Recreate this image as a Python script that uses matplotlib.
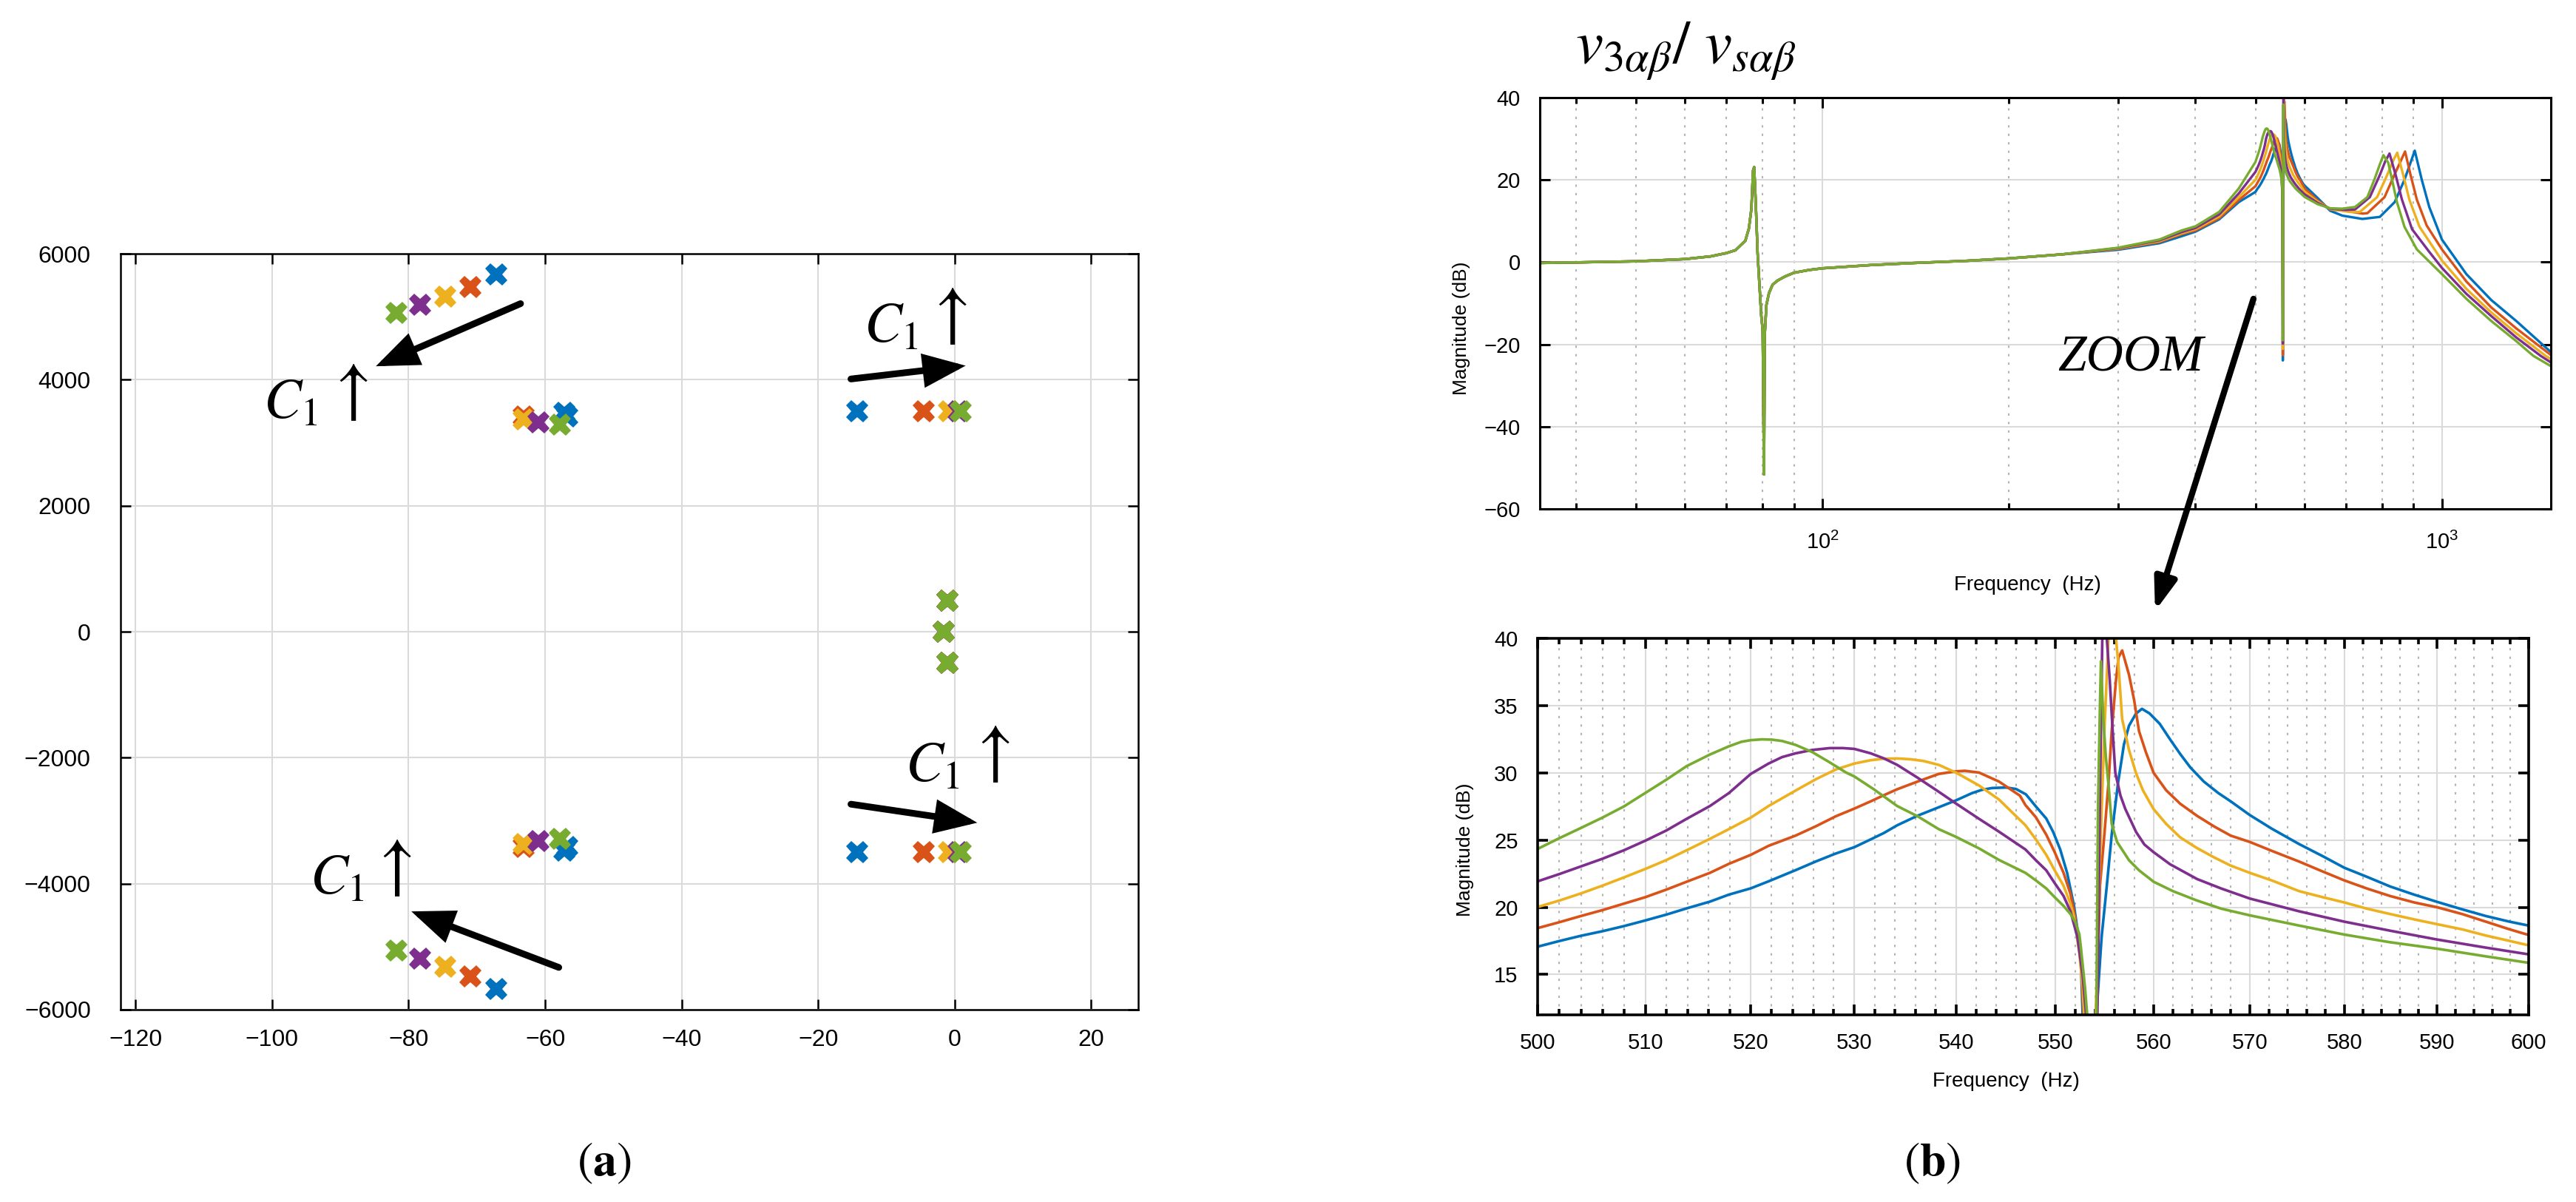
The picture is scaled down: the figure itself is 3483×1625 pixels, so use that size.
import matplotlib.pyplot as plt
from matplotlib.patches import FancyArrowPatch
from matplotlib.ticker import FixedLocator, FuncFormatter, NullFormatter, LogLocator

plt.rcParams['font.family'] = ['Liberation Sans Narrow', 'Liberation Sans', 'DejaVu Sans']

# MATLAB default line colours
c_blue, c_orange, c_yellow = '#0072BD', '#D95319', '#EDB120'
c_purple, c_green = '#7E2F8E', '#77AC30'

# ---- (a) pole map: real part, imaginary part ----
re_blue = [-67.2, -57.2, -56.8, -14.3, -1.1, -1.6, -1.1, -14.3, -56.8, -57.2, -67.2]
im_blue = [5675, 3471, 3412, 3498, 491, 0, -491, -3498, -3412, -3471, -5675]
re_orange = [-71.0, -63.2, -4.5, -1.1, -1.6, -1.1, -4.5, -63.2, -71.0]
im_orange = [5476, 3420, 3498, 491, 0, -491, -3498, -3420, -5476]
re_yellow = [-74.6, -63.2, -0.8, -1.1, -1.6, -1.1, -0.8, -63.2, -74.6]
im_yellow = [5320, 3365, 3498, 491, 0, -491, -3498, -3365, -5320]
re_purple = [-78.3, -61.0, 0.6, -1.1, -1.6, -1.1, 0.6, -61.0, -78.3]
im_purple = [5190, 3326, 3498, 491, 0, -491, -3498, -3326, -5190]
re_green = [-81.8, -57.8, 0.9, -1.1, -1.6, -1.1, 0.9, -57.8, -81.8]
im_green = [5061, 3283, 3498, 491, 0, -491, -3498, -3283, -5061]

# direction arrows (tail, head) and "C1 ^" labels
arrow_tails = [(-63.6, 5208), (-15.2, 4012), (-15.2, -2738), (-58.0, -5329)]
arrow_heads = [(-84.8, 4214), (1.6, 4223), (3.3, -3032), (-79.6, -4440)]
c1_pos = [(-101.3, 3396), (-13.3, 4603), (-7.2, -2367), (-94.5, -4155)]
up_pos = [(-89.0, 3808), (-1.3, 5018), (5.0, -1935), (-82.6, -3741)]

# ---- (b) magnitude of v3ab / vsab, (Hz, dB) ----
# common part below 300 Hz (all five curves overlap there)
low_pts = [(35, -0.2), (40, -0.07), (50, 0.2), (60, 0.74), (66, 1.4), (70, 2.2),
           (72.4, 2.9), (75.1, 5.2), (76.1, 8.2), (76.8, 12.9), (77.3, 22.3), (77.6, 23.1),
           (78.1, 13.6), (78.6, 2.2), (79.4, -9.2), (79.7, -13.2), (80.1, -16.5),
           (80.5, -51.6), (80.7, -17.9), (81.2, -10.5), (82.0, -7.5), (83.1, -5.5),
           (84.6, -4.5), (87.0, -3.5), (89.9, -2.6), (95.2, -1.9), (100, -1.5), (120, -0.7),
           (141, -0.2), (170, 0.3), (200, 0.9), (244, 1.9)]

blue_pts = [(300, 3.0), (350, 4.6), (380, 6.3), (400, 7.4), (437, 10.4), (470, 14.6),
            (500, 17.07), (502, 17.49), (504, 17.88), (506, 18.22), (508, 18.6), (510, 19.02),
            (512, 19.46), (513.9, 19.92), (516.1, 20.42), (517.9, 20.94), (520, 21.41),
            (521.7, 21.93), (524.3, 22.76), (526.3, 23.42), (528.2, 24.0), (530, 24.47),
            (531.6, 25.05), (532.9, 25.53), (534.2, 26.1), (536.2, 26.81), (538.3, 27.44),
            (540, 27.95), (541.6, 28.49), (542.6, 28.74), (543.6, 28.87), (545.0, 28.91),
            (546.0, 28.8), (547.0, 28.4), (548.0, 27.5), (549.05, 26.6), (549.75, 25.6),
            (550.46, 24.3), (551.16, 22.56), (551.86, 20.1), (552.2, 18.4), (552.56, 15.9),
            (552.74, 12.0), (553.6, -23.9), (554.14, 12.0), (554.67, 17.8), (555.2, 21.6),
            (555.7, 25.4), (556.35, 29.25), (556.95, 32.1), (557.47, 33.5), (558.18, 34.4),
            (558.8, 34.76), (559.58, 34.42), (560.63, 33.65), (561.69, 32.5), (562.75, 31.4),
            (563.8, 30.4), (565.2, 29.35), (566.7, 28.5), (568.0, 27.88), (570, 26.86),
            (572.3, 25.85), (575.2, 24.7), (577.7, 23.8), (580, 22.94), (582.4, 22.27),
            (584.9, 21.55), (587.5, 20.94), (590, 20.4), (592.7, 19.85), (595.3, 19.35),
            (597.9, 18.93), (600, 18.64), (630, 15.6), (660, 12.5), (691, 11.3), (744, 10.5),
            (794, 11.0), (839, 14.6), (870, 20.0), (904, 27.1), (928, 20.0), (954, 13.4),
            (1000, 5.5), (1095, -2.9), (1201, -9.2), (1318, -14.3), (1500, -21.9)]

orange_pts = [(300, 3.2), (350, 4.9), (380, 6.8), (400, 7.7), (437, 10.7), (470, 15.1),
              (500, 18.45), (502, 18.89), (504, 19.35), (506, 19.79), (508, 20.27),
              (510, 20.75), (512, 21.32), (513.9, 21.9), (516.1, 22.56), (517.9, 23.23),
              (520, 23.9), (521.7, 24.57), (524.3, 25.33), (526.3, 26.04), (528.2, 26.77),
              (530, 27.34), (531.6, 27.88), (532.9, 28.34), (534.2, 28.78), (536.2, 29.35),
              (538.3, 29.92), (540, 30.11), (540.9, 30.15), (542.3, 30.02), (544.3, 29.35),
              (546.4, 28.3), (546.95, 27.6), (548.0, 26.7), (549.05, 25.4), (549.9, 24.1),
              (550.8, 22.56), (551.5, 21.0), (551.86, 19.7), (552.2, 18.2), (552.56, 15.9),
              (552.84, 12.0), (553.6, -22.6), (554.14, 12.0), (554.5, 21.6), (554.95, 25.4),
              (555.37, 29.25), (555.7, 33.1), (556.14, 36.9), (556.4, 38.6), (556.77, 39.1),
              (557.47, 37.3), (558.0, 35.4), (558.5, 33.1), (559.2, 31.55), (560, 30.0),
              (561.3, 28.7), (562.75, 27.7), (564.5, 26.8), (566.3, 26.0), (568, 25.33),
              (570, 24.86), (572.3, 24.2), (575.2, 23.4), (577.7, 22.66), (580, 22.0),
              (582.4, 21.4), (584.9, 20.84), (587.5, 20.36), (590, 20.0), (592.7, 19.5),
              (595.3, 18.93), (597.9, 18.36), (600, 17.94), (630, 15.0), (660, 12.8),
              (697, 12.5), (745, 11.8), (758, 11.9), (808, 15.8), (838, 21.2), (872, 26.9),
              (890, 21.2), (911, 15.2), (945, 8.9), (1000, 3.1), (1095, -4.7), (1201, -11.0),
              (1318, -16.1), (1500, -22.6)]

yellow_pts = [(300, 3.3), (350, 5.1), (380, 7.0), (400, 8.0), (437, 11.1), (470, 15.8),
              (500, 20.02), (502, 20.5), (504, 21.03), (506, 21.61), (508, 22.22),
              (510, 22.85), (512, 23.52), (513.9, 24.24), (516.1, 25.09), (517.9, 25.81),
              (520, 26.67), (521.7, 27.53), (524.3, 28.68), (526.3, 29.54), (528.2, 30.25),
              (530, 30.69), (531.6, 30.94), (532.9, 31.05), (534.2, 31.07), (535.5, 31.01),
              (536.8, 30.88), (538.3, 30.59), (540, 30.02), (542.3, 29.06), (544.3, 28.01),
              (546.95, 26.1), (548.0, 25.05), (549.05, 23.9), (549.9, 22.75), (550.8, 21.6),
              (551.5, 20.27), (551.86, 19.3), (552.4, 16.6), (552.74, 14.0), (552.9, 12.0),
              (553.6, -21.1), (554.07, 12.0), (554.5, 23.5), (554.95, 33.1), (555.37, 40.0),
              (555.75, 42.0), (556.14, 40.0), (556.4, 37.9), (556.77, 34.0), (557.47, 31.7),
              (558.18, 30.0), (558.9, 28.7), (560, 27.3), (561.3, 26.2), (562.75, 25.2),
              (564.5, 24.4), (566.3, 23.7), (568, 23.1), (570, 22.56), (572.3, 22.0),
              (575.2, 21.2), (577.7, 20.75), (580, 20.36), (582.4, 19.9), (584.9, 19.5),
              (587.5, 19.1), (590, 18.74), (592.7, 18.36), (595.3, 17.9), (597.9, 17.5),
              (600, 17.17), (630, 14.7), (660, 12.9), (711, 12.2), (737, 12.2), (786, 15.8),
              (816, 21.2), (835, 24.8), (847, 26.6), (866, 21.2), (886, 15.2), (920, 8.6),
              (1000, 0.4), (1095, -6.5), (1201, -12.2), (1318, -17.3), (1471, -22.8),
              (1500, -23.6)]

purple_pts = [(300, 3.4), (350, 5.3), (380, 7.3), (400, 8.3), (437, 11.6), (470, 16.7),
              (500, 21.93), (502, 22.47), (504, 23.04), (506, 23.61), (508, 24.24),
              (510, 24.95), (512, 25.72), (513.9, 26.58), (516.1, 27.53), (517.9, 28.49),
              (520, 29.92), (521.7, 30.69), (523.0, 31.17), (524.3, 31.45), (525.9, 31.7),
              (527.6, 31.84), (528.9, 31.84), (530, 31.78), (531.6, 31.45), (532.9, 31.07),
              (534.2, 30.59), (536.2, 29.64), (538.3, 28.59), (540, 27.72), (542.3, 26.58),
              (544.3, 25.62), (546.95, 24.3), (548.0, 23.5), (549.05, 22.75), (549.9, 21.8),
              (550.8, 20.84), (551.5, 19.7), (552.2, 17.8), (552.74, 14.9), (553.09, 12.0),
              (553.6, -19.8), (554.24, 12.0), (554.5, 28.3), (554.74, 40.0), (555.0, 41.5),
              (555.2, 40.0), (555.5, 36.9), (555.8, 33.1), (556.07, 30.0), (556.6, 28.3),
              (557.1, 27.3), (558.2, 25.6), (559.05, 24.67), (560, 24.1), (561.7, 23.2),
              (564.5, 22.1), (567, 21.4), (570, 20.65), (575.2, 19.7), (580, 18.93),
              (584.9, 18.26), (590, 17.6), (595.3, 17.0), (600, 16.5), (630, 14.4),
              (660, 13.0), (700, 12.7), (724, 12.8), (765, 15.8), (794, 21.2), (810, 24.5),
              (823, 26.4), (842, 21.2), (862, 15.2), (895, 8.0), (954, 2.5), (1000, -1.4),
              (1095, -7.7), (1201, -13.1), (1318, -18.3), (1444, -22.8), (1500, -24.4)]

green_pts = [(300, 3.5), (350, 5.5), (380, 7.7), (400, 8.7), (437, 12.2), (470, 17.9),
             (500, 24.34), (502, 25.14), (504, 25.9), (506, 26.67), (508, 27.5), (510, 28.5),
             (512, 29.5), (513.9, 30.5), (516.1, 31.36), (517.9, 31.97), (519.1, 32.31),
             (520, 32.43), (521.05, 32.49), (522.0, 32.47), (523.0, 32.37), (524.3, 32.08),
             (525.9, 31.55), (527.6, 30.78), (529.2, 30.02), (530, 29.73), (531.9, 28.78),
             (534.2, 27.53), (536.2, 26.77), (538.3, 25.81), (540, 25.24), (542.3, 24.38),
             (544.3, 23.52), (546.95, 22.56), (548.0, 22.0), (549.05, 21.4), (549.9, 20.75),
             (550.8, 20.1), (551.5, 19.5), (552.0, 18.9), (552.4, 18.0), (552.56, 17.0),
             (552.98, 14.0), (553.2, 12.0), (553.6, -19.0), (554.14, 12.0), (554.3, 27.3),
             (554.5, 35.0), (554.6, 38.3), (554.84, 34.0), (555.1, 31.2), (555.4, 28.9),
             (555.7, 26.2), (556.25, 24.86), (557.47, 23.5), (558.5, 22.75), (560, 21.9),
             (562.0, 21.2), (564.5, 20.5), (567, 19.9), (570, 19.4), (575.2, 18.64),
             (580, 17.97), (584.9, 17.4), (590, 16.92), (595.3, 16.35), (600, 15.87),
             (630, 14.1), (660, 13.1), (690, 13.0), (724, 13.4), (758, 15.8), (779, 20.3),
             (795, 24.0), (804.5, 26.0), (819, 24.2), (831, 20.0), (846, 14.6), (870, 8.6),
             (911, 3.1), (1000, -2.9), (1095, -8.9), (1201, -14.3), (1318, -19.2),
             (1405, -22.8), (1500, -25.3)]

# drawing order as in the source figure
curves = [(blue_pts, c_blue), (orange_pts, c_orange), (yellow_pts, c_yellow),
          (purple_pts, c_purple), (green_pts, c_green)]

grid_col = '#dadada'
dot_col = '#b4b4b4'

fig = plt.figure(figsize=(34.83, 16.25), dpi=100)

# ---------------- (a) ----------------
ax = fig.add_axes([0.0468, 0.160, 0.3951, 0.6289])
for re, im, col in [(re_blue, im_blue, c_blue), (re_orange, im_orange, c_orange),
                    (re_yellow, im_yellow, c_yellow), (re_purple, im_purple, c_purple),
                    (re_green, im_green, c_green)]:
    ax.plot(re, im, ls='none', marker='X', ms=22, mew=0, color=col, zorder=3)
ax.set_xlim(-122.2, 26.9)
ax.set_ylim(-6000, 6000)
ax.set_xticks(range(-120, 21, 20))
ax.set_yticks(range(-6000, 6001, 2000))
ax.grid(True, color=grid_col, lw=1.5)
ax.set_axisbelow(True)
ax.tick_params(direction='in', top=True, right=True, length=10, width=1.8,
               labelsize=23)
ax.tick_params(axis='y', pad=29)
ax.tick_params(axis='x', pad=19)
for s in ax.spines.values():
    s.set_linewidth(1.8)

for tail, head in zip(arrow_tails, arrow_heads):
    ax.annotate('', xy=head, xytext=tail,
                arrowprops=dict(arrowstyle='-|>,head_length=1.5,head_width=0.6',
                                lw=6.5, color='k', shrinkA=0, shrinkB=0,
                                mutation_scale=20, capstyle='round',
                                joinstyle='miter'), zorder=4)
for (cx, cy), (ux, uy) in zip(c1_pos, up_pos):
    ax.text(cx, cy, r'$C_{\mathit{1}}$', fontsize=55, math_fontfamily='stix',
            ha='left', va='baseline', zorder=4)
    ax.text(ux, uy, r'$\uparrow$', fontsize=68, math_fontfamily='stix',
            ha='center', va='center', zorder=4)


def style_bode(a, spine_w):
    a.grid(True, which='major', color=grid_col, lw=1.5)
    a.grid(True, which='minor', axis='x', color=dot_col, lw=1.5, ls=(0, (1.5, 4)))
    a.set_axisbelow(True)
    a.tick_params(which='both', direction='in', top=True, right=True, width=spine_w,
                  labelsize=21)
    a.tick_params(which='major', length=10)
    a.tick_params(which='minor', length=6)
    a.tick_params(axis='y', pad=19)
    for s in a.spines.values():
        s.set_linewidth(spine_w)
    a.set_xlabel('Frequency  (Hz)', fontsize=20)
    a.set_ylabel('Magnitude (dB)', fontsize=19, family='Liberation Sans')


# ---------------- (b) full range ----------------
ax1 = fig.add_axes([0.5978, 0.5766, 0.3925, 0.3422])
for pts, col in curves:
    f, db = zip(*(low_pts + pts))
    ax1.plot(f, db, color=col, lw=2.4)
ax1.set_xscale('log')
ax1.set_xlim(35, 1500)
ax1.set_ylim(-60, 40)
ax1.set_yticks(range(-60, 41, 20))
ax1.xaxis.set_minor_locator(LogLocator(base=10, subs=range(2, 10)))
ax1.xaxis.set_minor_formatter(NullFormatter())
style_bode(ax1, 2.2)
ax1.tick_params(axis='x', pad=22)
ax1.xaxis.set_label_coords(0.482, -0.162)
ax1.yaxis.set_label_coords(-0.069, 0.44)

# ---------------- (b) zoom 500-600 Hz ----------------
ax2 = fig.add_axes([0.5969, 0.1557, 0.3847, 0.3132])
for pts, col in curves:
    f, db = zip(*(low_pts + pts))
    ax2.plot(f, db, color=col, lw=2.6)
ax2.set_xscale('log')
ax2.set_xlim(500, 600)
ax2.set_ylim(12, 40)
ax2.xaxis.set_major_locator(FixedLocator(range(500, 601, 10)))
ax2.xaxis.set_major_formatter(FuncFormatter(lambda v, p: f'{v:.0f}'))
ax2.xaxis.set_minor_locator(FixedLocator([v for v in range(502, 600, 2) if v % 10]))
ax2.xaxis.set_minor_formatter(NullFormatter())
ax2.set_yticks(range(15, 41, 5))
style_bode(ax2, 2.6)
ax2.tick_params(axis='x', pad=17)
ax2.xaxis.set_label_coords(0.473, -0.151)
ax2.yaxis.set_label_coords(-0.064, 0.438)

# texts and the ZOOM arrow
fig.text(0.6115, 0.957, r'$v_{\mathit{3}\alpha\beta}/\ v_{s\alpha\beta}$', fontsize=60,
         math_fontfamily='stix', ha='left', va='center')
fig.text(0.827, 0.7015, 'ZOOM', fontsize=50, family='Liberation Serif',
         style='italic', ha='center', va='center')
fig.add_artist(FancyArrowPatch((0.8748, 0.7514), (0.8366, 0.4917),
                               transform=fig.transFigure, color='k', lw=6,
                               arrowstyle='-|>,head_length=1.3,head_width=0.45',
                               mutation_scale=20, shrinkA=0, shrinkB=0,
                               capstyle='round'))
fig.text(0.2346, 0.032, r'$(\mathbf{a})$', fontsize=46, math_fontfamily='stix',
         ha='center', va='center')
fig.text(0.750, 0.032, r'$(\mathbf{b})$', fontsize=46, math_fontfamily='stix',
         ha='center', va='center')

fig.savefig('out.png', dpi=100)
